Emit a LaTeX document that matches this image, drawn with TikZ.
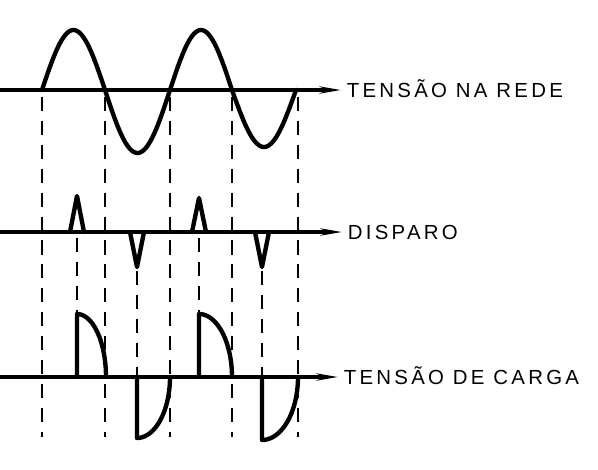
\documentclass[tikz,border=0pt]{standalone}
\usepackage{fontspec}
\newfontfamily\rotulofont[LetterSpace=16]{Liberation Sans}
\usetikzlibrary{calc,arrows.meta}

\begin{document}
\begin{tikzpicture}[x=0.025cm,y=-0.025cm,
    onda/.style={line width=3.1pt,line cap=round,line join=round},
    eixo/.style={line width=2.2pt,-{Stealth[length=15pt,width=5pt]}},
    guia/.style={line width=1.2pt,dash pattern=on 10pt off 7pt},
    rotulo/.style={anchor=west,inner xsep=4pt,inner ysep=0pt,text height=10.4pt,text depth=0pt,%
      font=\rotulofont\fontsize{14.5}{16}\selectfont}]

  \useasboundingbox (0,0) rectangle (598,469);

  % rotulos e eixos
  \node[rotulo] at (341,90) (rede) {TENSÃO NA REDE};
  \node[rotulo] at (342,232) (disparo) {DISPARO};
  \node[rotulo] at (338,377) (carga) {TENSÃO DE CARGA};

  \coordinate (o_rede) at (0,90);
  \coordinate (o_disparo) at (0,232);
  \coordinate (o_carga) at (0,377);

  \draw[eixo] (o_rede) -- (rede.west);
  \draw[eixo] (o_disparo) -- (disparo.west);
  \draw[eixo] (o_carga) -- (carga.west);

  % linhas guia
  \foreach \g in {42,105,170,232,298}{
    \draw[guia] (\g,97) -- (\g,437);
  }
  \foreach \g/\i/\f in {77/238/313,199/238/313,137/271/377,262/271/377}{
    \draw[guia] (\g,\i) -- (\g,\f);
  }

  % tensao na rede
  \foreach \a/\b/\h in {42/105/60,105/170/-63,170/232/60,232/296/-57}{
    \draw[onda] plot[domain=0:180,samples=40] ({\a+(\b-\a)*\x/180},{90-\h*sin(\x)});
  }

  % disparo
  \foreach \p/\t in {77/196,199/198,137/267,262/267}{
    \draw[onda] ({\p-7},232) -- (\p,\t) -- ({\p+7},232);
  }

  % tensao de carga
  \foreach \a/\b in {77/106,199/232}{
    \draw[onda] (\a,377) -- (\a,314) -- plot[domain=0:90,samples=30] ({\a+(\b-\a)*sin(\x)},{377-63*cos(\x)});
  }
  \foreach \a/\b/\d in {137/170/61,262/298/63}{
    \draw[onda] (\a,377) -- (\a,{377+\d}) -- plot[domain=0:90,samples=30] ({\a+(\b-\a)*sin(\x)},{377+\d*cos(\x)});
  }
\end{tikzpicture}
\end{document}
